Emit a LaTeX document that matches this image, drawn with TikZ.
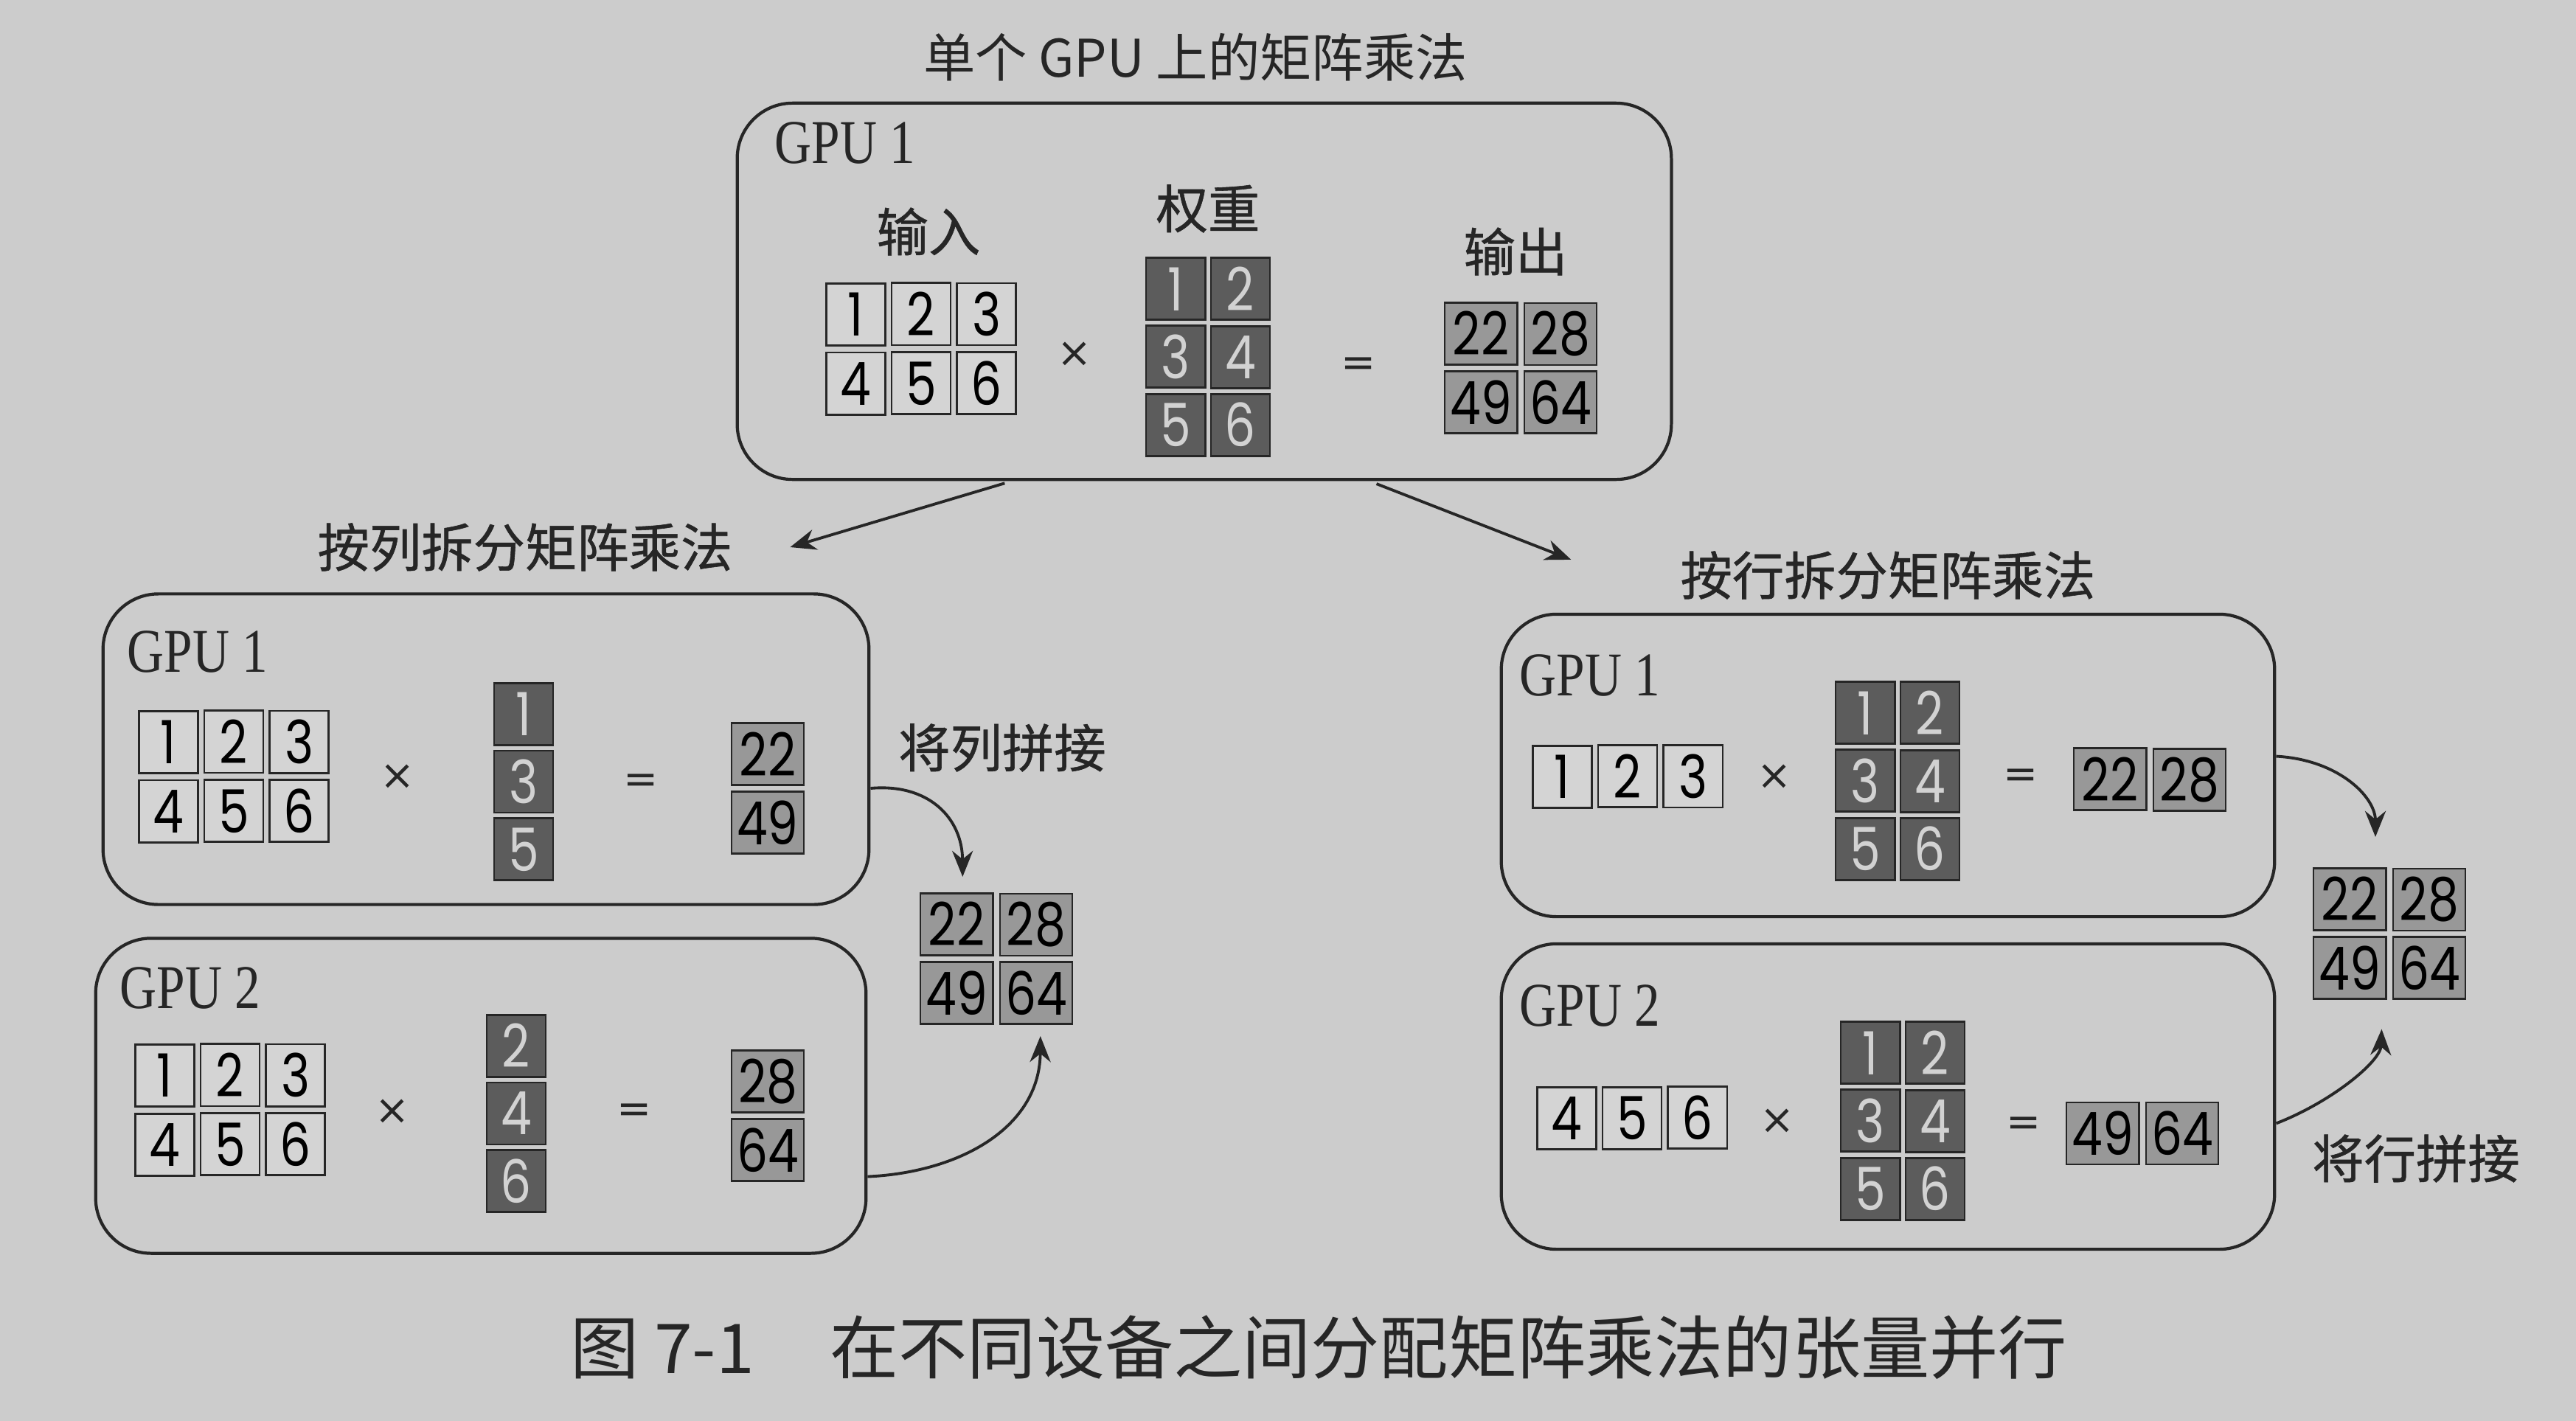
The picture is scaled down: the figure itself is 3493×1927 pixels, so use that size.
\documentclass[tikz,border=0pt]{standalone}
\usepackage{fontspec}
\usetikzlibrary{matrix,arrows.meta,calc}
\newfontfamily\cjk{Noto Sans CJK SC}
\newfontfamily\cjkb[FakeBold=0.8]{Noto Sans CJK SC}
\newfontfamily\gpuf[FakeStretch=0.82]{Liberation Serif}
\newfontfamily\digf[FakeStretch=0.82]{Poppins}
\newfontfamily\symf{DejaVu Sans}
\definecolor{bg}{RGB}{204,204,204}
\definecolor{lineC}{RGB}{38,38,38}
\definecolor{inC}{RGB}{212,212,212}
\definecolor{wC}{RGB}{92,92,92}
\definecolor{wtxt}{RGB}{210,210,210}
\definecolor{oC}{RGB}{152,152,152}
\tikzset{
  cellbase/.style={draw=lineC, line width=0.8pt, minimum height=0.84cm, inner sep=0pt, font=\digf\fontsize{23pt}{24pt}\selectfont},
  icell/.style={cellbase, fill=inC, minimum width=0.80cm},
  wcell/.style={cellbase, fill=wC, text=wtxt, minimum width=0.80cm},
  ocell/.style={cellbase, fill=oC, minimum width=0.98cm},
  imat/.style={matrix of nodes, column sep=0.06cm, row sep=0.06cm, inner sep=0pt, nodes={icell}},
  wmat/.style={matrix of nodes, column sep=0.05cm, row sep=0.05cm, inner sep=0pt, nodes={wcell}},
  omat/.style={matrix of nodes, column sep=0.07cm, row sep=0.06cm, inner sep=0pt, nodes={ocell}},
  box/.style={draw=lineC, line width=1.2pt, rounded corners=0.75cm, inner sep=0pt},
  gpu/.style={font=\gpuf\fontsize{24pt}{26pt}\selectfont, anchor=west, inner sep=0pt, text=lineC},
  lbl/.style={font=\cjkb\fontsize{20pt}{24pt}\selectfont, inner sep=0pt, text=lineC},
  op/.style={font=\symf\fontsize{16pt}{18pt}\selectfont, inner sep=0pt, text=lineC},
  arr/.style={draw=lineC, line width=1.1pt, -{Stealth[length=10pt,width=8pt]}}
}
\begin{document}
\begin{tikzpicture}[x=0.01cm,y=-0.01cm]
\fill[bg] (0,0) rectangle (3493,1927);
\useasboundingbox (0,0) rectangle (3493,1927);

% title and top box
\node[lbl, font=\cjk\fontsize{20pt}{24pt}\selectfont] (title) at (1621,78) {单个 GPU 上的矩阵乘法};
\node[box, minimum width=12.66cm, minimum height=5.10cm] (topbox) at (1633,395) {};
\node[gpu] (tG) at (1050,194) {GPU 1};
\node[lbl] (tInL) at (1259,314) {输入};
\node[lbl] (tWL) at (1638,283) {权重};
\node[lbl] (tOutL) at (2055,341) {输出};
\matrix[imat] (tIn) at (1249,473) {1 & 2 & 3\\ 4 & 5 & 6\\};
\node[op] (tX) at (1457,481) {×};
\matrix[wmat] (tW) at (1638,484) {1 & 2\\ 3 & 4\\ 5 & 6\\};
\node[op] (tEq) at (1842,498) {=};
\matrix[omat] (tOut) at (2062,499) {22 & 28\\ 49 & 64\\};

% section labels
\node[lbl] (lCol) at (712,742) {按列拆分矩阵乘法};
\node[lbl] (rRow) at (2560,780) {按行拆分矩阵乘法};

% left: column split
\node[box, minimum width=10.38cm, minimum height=4.21cm] (lg1) at (659,1016) {};
\node[gpu] (lG1) at (172,884) {GPU 1};
\matrix[imat] (lIn1) at (317,1053) {1 & 2 & 3\\ 4 & 5 & 6\\};
\node[op] (lX1) at (539,1054) {×};
\matrix[wmat] (lW1) at (710,1060) {1\\ 3\\ 5\\};
\node[op] (lEq1) at (869,1063) {=};
\matrix[omat] (lOut1) at (1041,1069) {22\\ 49\\};

\node[box, minimum width=10.44cm, minimum height=4.27cm] (lg2) at (652,1486) {};
\node[gpu] (lG2) at (162,1340) {GPU 2};
\matrix[imat] (lIn2) at (312,1505) {1 & 2 & 3\\ 4 & 5 & 6\\};
\node[op] (lX2) at (532,1508) {×};
\matrix[wmat] (lW2) at (700,1510) {2\\ 4\\ 6\\};
\node[op] (lEq2) at (860,1510) {=};
\matrix[omat] (lOut2) at (1041,1513) {28\\ 64\\};

\matrix[omat] (lM) at (1351,1300) {22 & 28\\ 49 & 64\\};
\node[lbl] (lJoin) at (1359,1014) {将列拼接};

% right: row split
\node[box, minimum width=10.48cm, minimum height=4.10cm] (rg1) at (2560,1038) {};
\node[gpu] (rG1) at (2060,916) {GPU 1};
\matrix[imat] (rIn1) at (2207,1053) {1 & 2 & 3\\};
\node[op] (rX1) at (2406,1054) {×};
\matrix[wmat] (rW1) at (2573,1059) {1 & 2\\ 3 & 4\\ 5 & 6\\};
\node[op] (rEq1) at (2740,1056) {=};
\matrix[omat] (rOut1) at (2915,1057) {22 & 28\\};

\node[box, minimum width=10.48cm, minimum height=4.14cm] (rg2) at (2560,1487) {};
\node[gpu] (rG2) at (2060,1364) {GPU 2};
\matrix[imat] (rIn2) at (2213,1516) {4 & 5 & 6\\};
\node[op] (rX2) at (2410,1521) {×};
\matrix[wmat] (rW2) at (2580,1520) {1 & 2\\ 3 & 4\\ 5 & 6\\};
\node[op] (rEq2) at (2744,1528) {=};
\matrix[omat] (rOut2) at (2905,1537) {49 & 64\\};

\matrix[omat] (rM) at (3240,1266) {22 & 28\\ 49 & 64\\};
\node[lbl] (rJoin) at (3276,1571) {将行拼接};

% arrows from top box
\draw[arr, shorten <=3pt] ($(topbox.south west)!0.295!(topbox.south east)$) -- ([xshift=22pt]lCol.east);
\draw[arr, shorten <=3pt] ($(topbox.south west)!0.676!(topbox.south east)$) -- ([xshift=-42pt,yshift=6pt]rRow.west);

% concatenation arrows
\draw[arr] (lg1.east |- lOut1) .. controls (1260,1062) and (1305,1110) .. ([xshift=-13pt,yshift=5.7pt]lM.north);
\draw[arr] ($(lg2.east |- lOut2.south)+(0,-8)$) .. controls (1300,1590) and (1410,1530) .. ([xshift=17pt,yshift=-4pt]lM.south);
\draw[arr] ($(rg1.north east)!0.47!(rg1.south east)$) .. controls (3170,1030) and (3221,1080) .. ([xshift=-5.4pt,yshift=11.4pt]rM.north);
\draw[arr] ($(rg2.north east)!0.587!(rg2.south east)$) .. controls (3160,1495) and (3228,1440) .. ([xshift=-3pt,yshift=-11pt]rM.south);

% caption
\node[font=\cjk\fontsize{26.5pt}{30pt}\selectfont, inner sep=0pt, text=lineC] (cap) at (1788,1827) {图 7-1\hspace{1.1em}在不同设备之间分配矩阵乘法的张量并行};
\end{tikzpicture}
\end{document}
